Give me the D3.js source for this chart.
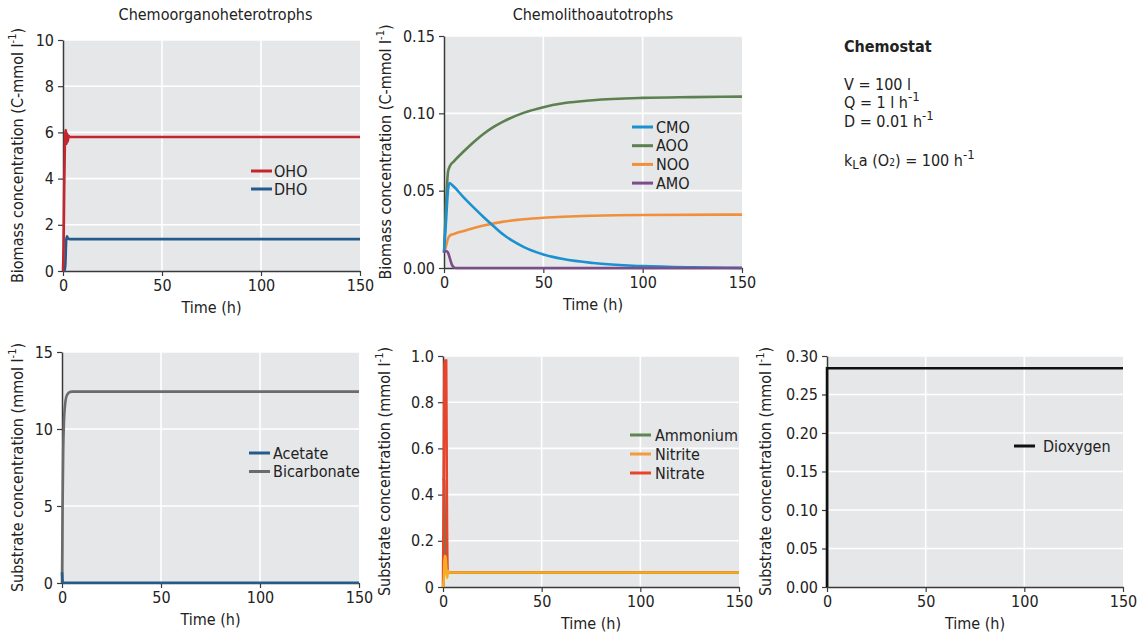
<!DOCTYPE html>
<html>
<head>
<meta charset="utf-8">
<script src="https://cdn.jsdelivr.net/npm/d3@7"></script>
<style>
  body { margin: 0; background: #fff; }
  svg text { font-family: "DejaVu Sans Condensed", "DejaVu Sans", sans-serif; fill: #222; }
</style>
</head>
<body>
<svg id="chart" width="1142" height="632"></svg>
<script>

// tick values
var timeTicks = [0, 50, 100, 150]
var hetTicks = [0, 2, 4, 6, 8, 10]
var autoTicks = [0, 0.05, 0.10, 0.15]
var carbonTicks = [0, 5, 10, 15]
var nitrogenTicks = [0, 0.2, 0.4, 0.6, 0.8, 1.0]
var oxygenTicks = [0, 0.05, 0.10, 0.15, 0.20, 0.25, 0.30]

// chemoorganoheterotrophs (C-mmol/l)
var ohoTime = [0, 0.3, 0.6, 0.9, 1.2, 1.5, 1.8, 2.1, 2.4, 2.8, 3.5, 150]
var ohoConc = [0, 1.2, 3.5, 5.3, 6.0, 6.1, 5.5, 5.95, 5.6, 5.85, 5.8, 5.8]
var dhoTime = [0, 0.8, 1.2, 1.6, 2.0, 2.6, 3.5, 150]
var dhoConc = [0, 0.02, 0.3, 1.3, 1.5, 1.4, 1.38, 1.38]

// chemolithoautotrophs (C-mmol/l)
var cmoTime = [0, 1, 2, 2.7, 5, 10, 15, 20, 25, 30, 35, 40, 50, 60, 75, 100, 125, 150]
var cmoConc = [0.01, 0.03, 0.05, 0.055, 0.0525, 0.0455, 0.039, 0.0328, 0.027, 0.0215, 0.0172, 0.0137, 0.0088, 0.0058, 0.0032, 0.0012, 0.0004, 0.0001]
var aooTime = [0, 1, 2, 3, 5, 10, 15, 20, 25, 30, 40, 50, 60, 75, 100, 125, 150]
var aooConc = [0.01, 0.04, 0.062, 0.066, 0.069, 0.0755, 0.0815, 0.0868, 0.0912, 0.0948, 0.1003, 0.104, 0.1065, 0.1085, 0.110, 0.1105, 0.1108]
var nooTime = [0, 1, 2, 3, 5, 10, 20, 30, 40, 50, 75, 100, 150]
var nooConc = [0.01, 0.014, 0.019, 0.021, 0.022, 0.024, 0.0275, 0.030, 0.0315, 0.0325, 0.0338, 0.0343, 0.0345]
var amoTime = [0, 1, 2, 3, 4, 5, 6, 150]
var amoConc = [0.01, 0.011, 0.01, 0.006, 0.002, 0.0005, 0, 0]

// carbon substrates (mmol/l)
var acetateTime = [0, 0.3, 0.6, 150]
var acetateConc = [0.7, 0.1, 0.02, 0.02]
var bicarbTime = [0, 0.3, 0.6, 1, 1.5, 2, 3, 4, 5, 150]
var bicarbConc = [0, 5, 8.5, 10.5, 11.5, 12, 12.3, 12.4, 12.43, 12.43]

// nitrogen substrates (mmol/l)
var ammoniumTime = [0, 0.6, 1.0, 1.3, 1.6, 150]
var ammoniumConc = [0.47, 0.46, 0.2, 0.08, 0.063, 0.063]
var nitriteTime = [0, 0.5, 0.8, 1.3, 1.7, 2.1, 2.5, 3, 150]
var nitriteConc = [0, 0.05, 0.135, 0.13, 0.08, 0.04, 0.07, 0.063, 0.063]
var nitrateTime = [0, 0.4, 0.8, 1.6, 2.0, 2.4, 3, 150]
var nitrateConc = [0, 0.5, 0.98, 0.98, 0.3, 0.06, 0.063, 0.063]

// dioxygen (mmol/l)
var oxygenTime = [0, 0.02, 150]
var oxygenConc = [0, 0.284, 0.284]

var svg = d3.select("#chart")
var FONT = "16px"

function zip(t, v) { return t.map(function(d, i) { return {t: d, v: v[i]} }) }

function yTitle(g, x, y, main) {
  var txt = g.append("text")
      .attr("transform", "translate(" + x + "," + y + ") rotate(-90)")
      .attr("text-anchor", "middle")
      .style("font-size", FONT)
  txt.append("tspan").text(main + " l")
  txt.append("tspan").attr("dy", -7).style("font-size", "11px").text("-1")
  txt.append("tspan").attr("dy", 7).text(")")
}

function panel(p) {
  var g = svg.append("g")
  var x = d3.scaleLinear().domain([0, 150]).range([p.left, p.right])
  var y = d3.scaleLinear().domain([0, p.ticks[p.ticks.length - 1]]).range([p.bottom, p.top])

  g.append("rect")
      .attr("x", p.left).attr("y", p.top)
      .attr("width", p.right - p.left).attr("height", p.bottom - p.top)
      .attr("fill", "#e6e7e9")

  // grid
  g.selectAll(".hg").data(p.ticks.slice(1)).enter().append("line")
      .attr("x1", p.left).attr("x2", p.right)
      .attr("y1", function(d) { return y(d) }).attr("y2", function(d) { return y(d) })
      .attr("stroke", "#fff").attr("stroke-width", 1.6)
  g.selectAll(".vg").data(timeTicks.slice(1, 3)).enter().append("line")
      .attr("y1", p.top).attr("y2", p.bottom)
      .attr("x1", function(d) { return x(d) }).attr("x2", function(d) { return x(d) })
      .attr("stroke", "#fff").attr("stroke-width", 1.6)

  // axes
  var xAxis = g.append("g").attr("transform", "translate(0," + p.bottom + ")")
      .call(d3.axisBottom(x).tickValues(timeTicks).tickSize(5).tickSizeOuter(0).tickPadding(4))
  var yAxis = g.append("g").attr("transform", "translate(" + p.left + ",0)")
      .call(d3.axisLeft(y).tickValues(p.ticks).tickFormat(p.fmt).tickSize(5).tickSizeOuter(0).tickPadding(4))
  ;[xAxis, yAxis].forEach(function(a) {
    a.select(".domain").attr("stroke", "#3a3a3a").attr("stroke-width", 1.5)
    a.selectAll(".tick line").attr("stroke", "#3a3a3a").attr("stroke-width", 1.2)
    a.selectAll(".tick text").style("font-size", FONT).attr("fill", "#222")
      .style("font-family", "'DejaVu Sans Condensed', 'DejaVu Sans', sans-serif")
  })

  g.append("text")
      .attr("x", (p.left + p.right) / 2).attr("y", p.bottom + 42)
      .attr("text-anchor", "middle").style("font-size", FONT)
      .text("Time (h)")
  yTitle(g, p.ylx, (p.top + p.bottom) / 2, p.ylabel)

  if (p.title) {
    g.append("text")
      .attr("x", (p.left + p.right) / 2 + p.titleDx).attr("y", 20)
      .attr("text-anchor", "middle").style("font-size", FONT)
      .text(p.title)
  }

  var line = d3.line()
      .x(function(d) { return x(d.t) })
      .y(function(d) { return y(d.v) })
      .curve(d3.curveMonotoneX)

  p.series.forEach(function(s) {
    g.append("path")
        .datum(zip(s.time, s.vals))
        .attr("d", line)
        .attr("fill", "none")
        .attr("stroke", s.lineColor || s.color)
        .attr("stroke-width", 2.6)
  })

  // legend
  p.legendOrder.forEach(function(s, i) {
    var ly = p.legend[1] + i * p.legendStep
    g.append("line")
        .attr("x1", p.legend[0]).attr("x2", p.legend[0] + 21)
        .attr("y1", ly).attr("y2", ly)
        .attr("stroke", s.color).attr("stroke-width", 3)
    g.append("text")
        .attr("x", p.legend[0] + p.legendGap).attr("y", ly + 5.5)
        .style("font-size", FONT)
        .text(s.name)
  })
}

var intFmt = d3.format("d")
var twoFmt = d3.format(".2f")
var oneFmt = function(d) { return d === 0 ? "0" : d3.format(".1f")(d) }

var oho = {name: "OHO", time: ohoTime, vals: ohoConc, color: "#c4262e"}
var dho = {name: "DHO", time: dhoTime, vals: dhoConc, color: "#255b8c"}
panel({left: 63, right: 360, top: 40, bottom: 271, ticks: hetTicks, fmt: intFmt,
  ylx: 23, ylabel: "Biomass concentration (C-mmol", title: "Chemoorganoheterotrophs", titleDx: 4,
  series: [dho, oho], legendOrder: [oho, dho], legend: [251, 171], legendStep: 18, legendGap: 23})

var cmo = {name: "CMO", time: cmoTime, vals: cmoConc, color: "#1c91d0"}
var aoo = {name: "AOO", time: aooTime, vals: aooConc, color: "#5d8050"}
var noo = {name: "NOO", time: nooTime, vals: nooConc, color: "#f0903e"}
var amo = {name: "AMO", time: amoTime, vals: amoConc, color: "#7d4c8c"}
panel({left: 444, right: 742, top: 36, bottom: 268, ticks: autoTicks, fmt: twoFmt,
  ylx: 391, ylabel: "Biomass concentration (C-mmol", title: "Chemolithoautotrophs", titleDx: 0,
  series: [noo, aoo, cmo, amo], legendOrder: [cmo, aoo, noo, amo], legend: [632, 127], legendStep: 18.7, legendGap: 24})

var acetate = {name: "Acetate", time: acetateTime, vals: acetateConc, color: "#255b8c"}
var bicarb = {name: "Bicarbonate", time: bicarbTime, vals: bicarbConc, color: "#6b6b6b"}
panel({left: 62, right: 359, top: 352, bottom: 583, ticks: carbonTicks, fmt: intFmt,
  ylx: 23, ylabel: "Substrate concentration (mmol",
  series: [bicarb, acetate], legendOrder: [acetate, bicarb], legend: [249, 453], legendStep: 18.5, legendGap: 24})

var ammonium = {name: "Ammonium", time: ammoniumTime, vals: ammoniumConc, color: "#5f8552"}
var nitrite = {name: "Nitrite", time: nitriteTime, vals: nitriteConc, color: "#f39a3e", lineColor: "#f3ae22"}
var nitrate = {name: "Nitrate", time: nitrateTime, vals: nitrateConc, color: "#e8442c"}
panel({left: 443, right: 739, top: 356, bottom: 587, ticks: nitrogenTicks, fmt: oneFmt,
  ylx: 390, ylabel: "Substrate concentration (mmol",
  series: [ammonium, nitrate, nitrite], legendOrder: [ammonium, nitrite, nitrate], legend: [630, 435], legendStep: 19, legendGap: 25})

var oxygen = {name: "Dioxygen", time: oxygenTime, vals: oxygenConc, color: "#111"}
panel({left: 827, right: 1123, top: 356, bottom: 587, ticks: oxygenTicks, fmt: twoFmt,
  ylx: 771, ylabel: "Substrate concentration (mmol",
  series: [oxygen], legendOrder: [oxygen], legend: [1014, 446], legendStep: 18, legendGap: 29})

// chemostat settings text
var info = svg.append("g").attr("transform", "translate(844,0)")
info.append("text").attr("y", 52).style("font-size", FONT).style("font-weight", "bold").text("Chemostat")
info.append("text").attr("y", 90).style("font-size", FONT).text("V = 100 l")
var q = info.append("text").attr("y", 108).style("font-size", FONT)
q.append("tspan").text("Q = 1 l h")
q.append("tspan").attr("dy", -7).style("font-size", "13px").text("-1")
var dl = info.append("text").attr("y", 127).style("font-size", FONT)
dl.append("tspan").text("D = 0.01 h")
dl.append("tspan").attr("dy", -7).style("font-size", "13px").text("-1")
var k = info.append("text").attr("y", 166).style("font-size", FONT)
k.append("tspan").text("k")
k.append("tspan").attr("dy", 3).style("font-size", "13px").text("L")
k.append("tspan").attr("dy", -3).text("a (O")
k.append("tspan").style("font-size", "10px").text("2")
k.append("tspan").text(") = 100 h")
k.append("tspan").attr("dy", -7).style("font-size", "13px").text("-1")

</script>
</body>
</html>
